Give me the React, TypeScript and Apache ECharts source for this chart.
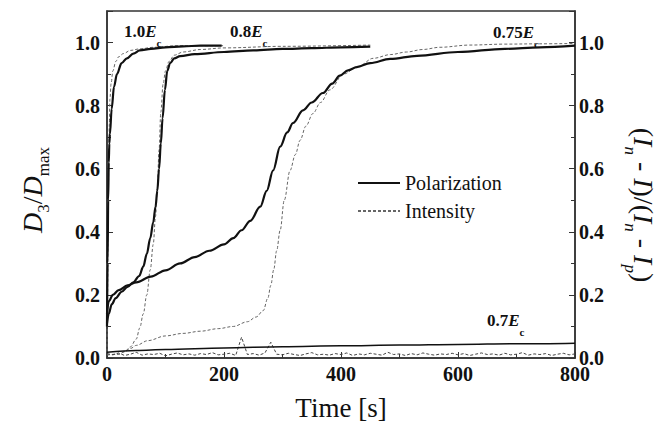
import React, { useEffect, useRef } from 'react';
import * as echarts from 'echarts';

const SERIF = '"Liberation Serif", "Times New Roman", serif';

// Field 1.0 Ec
const pol10Time = [0, 1, 2, 3, 4, 5, 8, 12, 17, 25, 34, 45, 56, 75, 100, 130, 160, 196];
const pol10Value = [0.1, 0.3, 0.5, 0.62, 0.68, 0.71, 0.79, 0.86, 0.9, 0.935, 0.95, 0.965, 0.975, 0.98, 0.985, 0.988, 0.99, 0.99];
const int10Time = [0, 1, 2, 3, 4, 5, 7, 10, 15, 20, 28, 40, 56, 80, 120, 160, 200];
const int10Value = [0.02, 0.2, 0.45, 0.62, 0.74, 0.82, 0.87, 0.91, 0.94, 0.955, 0.965, 0.975, 0.98, 0.985, 0.99, 0.99, 0.99];

// Field 0.8 Ec
const pol08Time = [0, 3, 8, 15, 25, 35, 45, 55, 62, 68, 74, 79, 83, 86, 89, 92, 95, 99, 103, 108, 115, 125, 150, 200, 250, 300, 350, 400, 450];
const pol08Value = [0.11, 0.14, 0.17, 0.19, 0.21, 0.225, 0.24, 0.26, 0.29, 0.33, 0.38, 0.43, 0.48, 0.53, 0.6, 0.68, 0.76, 0.85, 0.91, 0.935, 0.95, 0.957, 0.963, 0.97, 0.975, 0.98, 0.982, 0.985, 0.987];
const int08Time = [0, 20, 30, 40, 50, 56, 62, 68, 74, 79, 83, 86, 89, 92, 96, 100, 106, 115, 130, 160, 200, 300, 450];
const int08Value = [0.01, 0.012, 0.02, 0.035, 0.06, 0.095, 0.14, 0.2, 0.28, 0.36, 0.45, 0.54, 0.66, 0.78, 0.87, 0.91, 0.94, 0.96, 0.97, 0.978, 0.983, 0.988, 0.992];

// Field 0.75 Ec
const pol075Time = [0, 3, 10, 20, 35, 50, 75, 100, 125, 150, 175, 200, 216, 230, 245, 262, 273, 284, 296, 308, 318, 335, 350, 369, 385, 398, 412, 427, 450, 484, 530, 600, 680, 740, 800];
const pol075Value = [0.14, 0.18, 0.2, 0.215, 0.23, 0.24, 0.258, 0.278, 0.3, 0.32, 0.34, 0.36, 0.38, 0.405, 0.435, 0.48, 0.53, 0.595, 0.67, 0.715, 0.745, 0.785, 0.81, 0.84, 0.87, 0.895, 0.912, 0.922, 0.935, 0.948, 0.958, 0.97, 0.98, 0.985, 0.99];
const int075Time = [0, 20, 30, 40, 50, 70, 100, 130, 160, 190, 216, 240, 255, 267, 275, 280, 285, 290, 296, 303, 313, 322, 330, 340, 352, 365, 381, 404, 430, 455, 485, 512, 540, 569, 620, 680, 740, 800];
const int075Value = [0.01, 0.012, 0.02, 0.03, 0.04, 0.055, 0.07, 0.078, 0.085, 0.093, 0.1, 0.115, 0.13, 0.15, 0.19, 0.23, 0.28, 0.34, 0.405, 0.5, 0.595, 0.645, 0.69, 0.735, 0.775, 0.81, 0.85, 0.9, 0.925, 0.95, 0.962, 0.97, 0.978, 0.985, 0.992, 0.995, 0.996, 0.997];

// Field 0.7 Ec
const pol07Time = [0, 50, 100, 200, 300, 400, 500, 600, 700, 800];
const pol07Value = [0.018, 0.024, 0.027, 0.032, 0.036, 0.039, 0.041, 0.043, 0.045, 0.047];
const int07Step = 10; // seconds between samples
const int07Value = [
  0.014, 0.010, 0.016, 0.008, 0.012, 0.018, 0.009, 0.013, 0.011, 0.015,
  0.007, 0.012, 0.016, 0.010, 0.013, 0.009, 0.014, 0.011, 0.017, 0.010,
  0.012, 0.015, 0.008, 0.066, 0.011, 0.014, 0.009, 0.016, 0.050, 0.012,
  0.010, 0.015, 0.011, 0.008, 0.013, 0.017, 0.010, 0.012, 0.009, 0.014,
  0.011, 0.016, 0.008, 0.013, 0.010, 0.015, 0.012, 0.009, 0.018, 0.011,
  0.013, 0.008, 0.014, 0.010, 0.016, 0.012, 0.009, 0.013, 0.011, 0.015,
  0.010, 0.014, 0.008, 0.012, 0.016, 0.011, 0.013, 0.009, 0.015, 0.010,
  0.012, 0.017, 0.009, 0.013, 0.011, 0.014, 0.008, 0.012, 0.015, 0.010,
  0.013,
];

const xTicks = { min: 0, max: 800, interval: 200 };
const yTicks = { min: 0, max: 1.1, interval: 0.2 };

type Part = { t: string; size: number; bold?: boolean; italic?: boolean; dy?: number };

let measureCtx: CanvasRenderingContext2D | null = null;
function fontOf(p: Part) {
  return `${p.italic ? 'italic ' : ''}${p.bold ? 'bold ' : ''}${p.size}px ${SERIF}`;
}
function widthOf(p: Part) {
  if (!measureCtx) measureCtx = document.createElement('canvas').getContext('2d');
  if (!measureCtx) return p.t.length * p.size * 0.5;
  measureCtx.font = fontOf(p);
  return measureCtx.measureText(p.t).width;
}

// Lays out a run of text pieces (for sub/superscripts) along the local x axis.
function textRun(parts: Part[], align: 'left' | 'center') {
  const widths = parts.map(widthOf);
  const total = widths.reduce((a, b) => a + b, 0);
  let cx = align === 'center' ? -total / 2 : 0;
  return parts.map((p, i) => {
    const el = {
      type: 'text',
      x: cx,
      y: p.dy || 0,
      style: {
        text: p.t,
        fontFamily: SERIF,
        fontSize: p.size,
        fontWeight: p.bold ? 'bold' : 'normal',
        fontStyle: p.italic ? 'italic' : 'normal',
        fill: '#111',
        textAlign: 'left',
        textVerticalAlign: 'middle',
      },
    };
    cx += widths[i];
    return el;
  });
}

function fieldLabel(value: string, x: number, y: number) {
  return {
    type: 'group',
    x,
    y,
    children: textRun(
      [
        { t: value, size: 17, bold: true },
        { t: 'E', size: 17, bold: true, italic: true },
        { t: 'c', size: 11, bold: true, dy: 12 },
      ],
      'left'
    ),
  };
}

const pair = (t: number[], v: number[]) => t.map((x, i) => [x, v[i]]);

function lineSeries(name: string, data: number[][], dashed: boolean, opts: any = {}) {
  const color = dashed ? '#666' : '#111';
  return {
    type: 'line',
    name,
    data,
    symbol: 'none',
    showSymbol: false,
    smooth: opts.smooth === false ? false : 0.35,
    smoothMonotone: 'x',
    xAxisIndex: 0,
    yAxisIndex: 0,
    itemStyle: { color },
    lineStyle: dashed
      ? { color: opts.color || color, width: 1, type: [3, 2] }
      : { color, width: opts.width || 2.2 },
    z: dashed ? 2 : 3,
  };
}

function buildOption() {
  const axisLabel = {
    fontFamily: SERIF,
    fontWeight: 'bold',
    fontSize: 20,
    color: '#111',
  };
  const yAxisBase = {
    type: 'value',
    min: yTicks.min,
    max: yTicks.max,
    interval: yTicks.interval,
    axisLine: { show: true, lineStyle: { color: '#333', width: 1.5 } },
    axisTick: { show: true, inside: true, length: 6, lineStyle: { color: '#333', width: 1 } },
    minorTick: { show: true, splitNumber: 2, length: 4, lineStyle: { color: '#333', width: 1 } },
    splitLine: { show: false },
    minorSplitLine: { show: false },
  };
  const yFormatter = (v: number) => (v > 1.05 ? '' : v.toFixed(1));

  const int07Data = int07Value.map((v, i) => [i * int07Step, v]);

  return {
    animation: false,
    backgroundColor: '#fff',
    grid: {
      left: 107,
      right: 85,
      top: 11,
      bottom: 64,
      show: true,
      borderColor: '#333',
      borderWidth: 1.5,
      outerBoundsMode: 'none',
    },
    legend: {
      data: ['Polarization', 'Intensity'],
      orient: 'vertical',
      left: 352,
      top: 168,
      itemWidth: 42,
      itemHeight: 14,
      itemGap: 8,
      selectedMode: false,
      itemStyle: { opacity: 0 },
      textStyle: { fontFamily: SERIF, fontSize: 20, color: '#111' },
    },
    xAxis: {
      type: 'value',
      min: xTicks.min,
      max: xTicks.max,
      interval: xTicks.interval,
      name: 'Time [s]',
      nameLocation: 'middle',
      nameGap: 36,
      nameTextStyle: { fontFamily: SERIF, fontSize: 27, color: '#111' },
      axisLine: { show: true, lineStyle: { color: '#333', width: 1.5 } },
      axisTick: { show: true, inside: true, length: 6, lineStyle: { color: '#333', width: 1 } },
      minorTick: { show: true, splitNumber: 2, length: 4, lineStyle: { color: '#333', width: 1 } },
      splitLine: { show: false },
      minorSplitLine: { show: false },
      axisLabel: { ...axisLabel, margin: 6 },
    },
    yAxis: [
      {
        ...yAxisBase,
        position: 'left',
        axisLabel: { ...axisLabel, margin: 7, formatter: yFormatter },
      },
      {
        ...yAxisBase,
        position: 'right',
        axisLabel: { ...axisLabel, margin: 4, formatter: yFormatter },
      },
    ],
    series: [
      lineSeries('Intensity', pair(int10Time, int10Value), true),
      lineSeries('Intensity', pair(int08Time, int08Value), true),
      lineSeries('Intensity', pair(int075Time, int075Value), true),
      lineSeries('Intensity', int07Data, true, { smooth: false, color: '#444' }),
      lineSeries('Polarization', pair(pol10Time, pol10Value), false),
      lineSeries('Polarization', pair(pol08Time, pol08Value), false),
      lineSeries('Polarization', pair(pol075Time, pol075Value), false),
      lineSeries('Polarization', pair(pol07Time, pol07Value), false, { width: 1.5 }),
    ],
    graphic: [
      {
        type: 'group',
        x: 32,
        y: 190,
        rotation: Math.PI / 2,
        children: textRun(
          [
            { t: 'D', size: 28, italic: true },
            { t: '3', size: 17, dy: 11 },
            { t: '/', size: 28 },
            { t: 'D', size: 28, italic: true },
            { t: 'max', size: 17, dy: 11 },
          ],
          'center'
        ),
      },
      {
        type: 'group',
        x: 643,
        y: 205,
        rotation: -Math.PI / 2,
        children: textRun(
          [
            { t: '(', size: 28 },
            { t: 'I', size: 28, italic: true },
            { t: 'n', size: 17, italic: true, dy: 13 },
            { t: ' - ', size: 28 },
            { t: 'I', size: 28, italic: true },
            { t: ')/(', size: 28 },
            { t: 'I', size: 28, italic: true },
            { t: 'n', size: 17, italic: true, dy: 13 },
            { t: ' - ', size: 28 },
            { t: 'I', size: 28, italic: true },
            { t: 'p', size: 17, italic: true, dy: 13 },
            { t: ')', size: 28 },
          ],
          'center'
        ),
      },
      fieldLabel('1.0', 124, 31),
      fieldLabel('0.8', 230, 31),
      fieldLabel('0.75', 493, 32),
      fieldLabel('0.7', 487, 320),
    ],
  };
}

export default function App() {
  const ref = useRef<HTMLDivElement>(null);
  useEffect(() => {
    if (!ref.current) return;
    const chart = echarts.init(ref.current, undefined, { renderer: 'svg' });
    chart.setOption(buildOption() as any);
    return () => chart.dispose();
  }, []);
  return (
    <div
      ref={ref}
      style={{ position: 'fixed', left: 0, top: 0, width: 660, height: 422 }}
    />
  );
}
